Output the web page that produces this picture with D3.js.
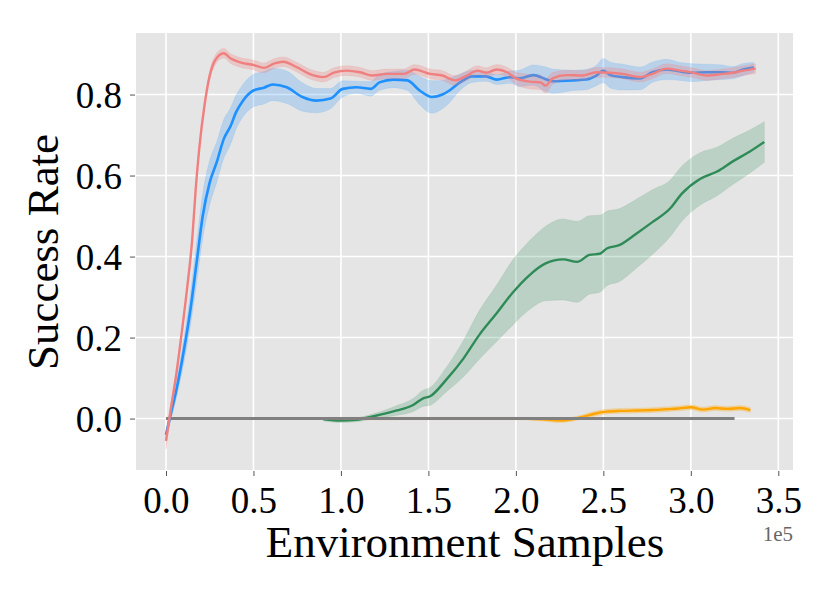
<!DOCTYPE html>
<html>
<head>
<meta charset="utf-8">
<script src="https://cdn.jsdelivr.net/npm/d3@7"></script>
<style>
  html, body { margin: 0; padding: 0; background: #fff; }
  svg { display: block; }
</style>
</head>
<body>
<svg id="chart" width="830" height="593"></svg>
<script>
// ---- data (x in units of 1e5 environment samples) ----
const xTicks = [0, 0.5, 1.0, 1.5, 2.0, 2.5, 3.0, 3.5];
const yTicks = [0.0, 0.2, 0.4, 0.6, 0.8];

const redX = [0,0.03,0.06,0.09,0.12,0.15,0.17,0.19,0.22,0.25,0.28,0.33,0.37,0.42,0.50,0.56,0.62,0.67,0.75,0.82,0.90,0.96,1.03,1.11,1.18,1.26,1.36,1.42,1.51,1.58,1.65,1.72,1.78,1.83,1.89,1.95,2.00,2.08,2.14,2.17,2.21,2.29,2.38,2.46,2.54,2.61,2.71,2.78,2.86,2.94,3.01,3.09,3.18,3.24,3.30,3.37];
const redY = [-0.055,0.03,0.113,0.212,0.319,0.443,0.567,0.666,0.773,0.847,0.884,0.902,0.889,0.880,0.873,0.866,0.877,0.881,0.867,0.851,0.843,0.854,0.859,0.855,0.847,0.851,0.851,0.862,0.851,0.847,0.835,0.847,0.859,0.854,0.862,0.855,0.840,0.832,0.830,0.822,0.840,0.848,0.847,0.855,0.854,0.851,0.843,0.851,0.864,0.859,0.854,0.847,0.851,0.854,0.859,0.864];
const redSpread = [0.02,0.015,0.012,0.01,0.01,0.01,0.01,0.01,0.01,0.012,0.012,0.012,0.012,0.012,0.012,0.012,0.012,0.012,0.012,0.012,0.012,0.012,0.012,0.012,0.012,0.012,0.012,0.012,0.012,0.012,0.012,0.012,0.012,0.012,0.012,0.012,0.015,0.018,0.018,0.018,0.015,0.012,0.012,0.012,0.012,0.012,0.012,0.012,0.012,0.012,0.012,0.012,0.012,0.012,0.012,0.012];

const blueX = [0,0.02,0.06,0.10,0.14,0.175,0.21,0.25,0.29,0.33,0.37,0.40,0.44,0.50,0.56,0.61,0.69,0.78,0.86,0.94,1.01,1.09,1.17,1.22,1.30,1.38,1.45,1.52,1.58,1.62,1.68,1.75,1.83,1.89,1.97,2.02,2.10,2.17,2.21,2.33,2.40,2.46,2.50,2.54,2.61,2.71,2.78,2.86,2.94,3.01,3.09,3.18,3.24,3.30,3.36];
const blueY = [-0.04,-0.002,0.072,0.163,0.27,0.385,0.50,0.583,0.633,0.69,0.723,0.756,0.785,0.810,0.817,0.825,0.818,0.794,0.785,0.79,0.814,0.818,0.814,0.83,0.837,0.835,0.81,0.794,0.80,0.81,0.83,0.845,0.845,0.837,0.843,0.840,0.848,0.838,0.833,0.835,0.837,0.847,0.859,0.848,0.843,0.840,0.855,0.862,0.857,0.854,0.855,0.855,0.854,0.862,0.867];
const blueSpread = [0.01,0.015,0.02,0.03,0.04,0.05,0.055,0.055,0.05,0.048,0.045,0.042,0.04,0.04,0.04,0.04,0.04,0.035,0.03,0.025,0.02,0.015,0.018,0.02,0.02,0.025,0.035,0.04,0.035,0.03,0.02,0.015,0.012,0.012,0.015,0.02,0.025,0.03,0.03,0.025,0.025,0.025,0.03,0.032,0.032,0.028,0.025,0.025,0.022,0.022,0.02,0.018,0.015,0.015,0.012];

const greenX = [0.90,1.0,1.09,1.18,1.32,1.41,1.47,1.51,1.60,1.70,1.79,1.89,1.98,2.08,2.17,2.27,2.35,2.42,2.48,2.52,2.59,2.69,2.78,2.88,2.95,3.05,3.15,3.24,3.34,3.42];
const greenY = [-0.002,-0.005,-0.003,0.005,0.02,0.033,0.05,0.055,0.095,0.148,0.206,0.26,0.31,0.355,0.383,0.393,0.387,0.404,0.407,0.42,0.428,0.457,0.485,0.518,0.556,0.591,0.61,0.635,0.66,0.683];
const greenSpread = [0.004,0.005,0.005,0.006,0.012,0.016,0.02,0.022,0.03,0.045,0.06,0.07,0.08,0.085,0.092,0.1,0.1,0.097,0.095,0.092,0.09,0.085,0.08,0.07,0.068,0.065,0.06,0.057,0.053,0.05];

const orangeX = [0.95,1.5,2.0,2.15,2.25,2.32,2.38,2.45,2.52,2.6,2.7,2.78,2.86,2.93,3.0,3.07,3.14,3.21,3.28,3.34];
const orangeY = [0.0,0.0,0.0,-0.002,-0.005,-0.002,0.004,0.012,0.017,0.019,0.02,0.021,0.023,0.025,0.028,0.022,0.026,0.024,0.026,0.021];
const orangeSpread = [0.003,0.003,0.003,0.004,0.005,0.005,0.005,0.006,0.006,0.006,0.006,0.006,0.006,0.006,0.006,0.006,0.006,0.006,0.006,0.006];

const grayX = [0, 3.25];
const grayY = [0, 0];

// ---- layout ----
const svg = d3.select("#chart");
const plot = {left: 136, right: 793, top: 33, bottom: 470};

const x = d3.scaleLinear().domain([-0.1714, 3.584]).range([plot.left, plot.right]);
const y = d3.scaleLinear().domain([-0.127, 0.952]).range([plot.bottom, plot.top]);

const serif = "'Liberation Serif', 'Times New Roman', serif";

svg.append("rect")
  .attr("x", plot.left).attr("y", plot.top)
  .attr("width", plot.right - plot.left).attr("height", plot.bottom - plot.top)
  .attr("fill", "#E5E5E5");

// grid
const grid = svg.append("g");
grid.selectAll("line.vx").data(xTicks).join("line")
  .attr("x1", d => x(d)).attr("x2", d => x(d))
  .attr("y1", plot.top).attr("y2", plot.bottom)
  .attr("stroke", "#fff").attr("stroke-width", 1.6);
grid.selectAll("line.hy").data(yTicks).join("line")
  .attr("y1", d => y(d)).attr("y2", d => y(d))
  .attr("x1", plot.left).attr("x2", plot.right)
  .attr("stroke", "#fff").attr("stroke-width", 1.6);

// axes
const xAxis = d3.axisBottom(x).tickValues(xTicks).tickFormat(d3.format(".1f")).tickSize(5).tickPadding(8);
const yAxis = d3.axisLeft(y).tickValues(yTicks).tickFormat(d3.format(".1f")).tickSize(5).tickPadding(8);

const gx = svg.append("g").attr("transform", `translate(0,${plot.bottom + 1})`).call(xAxis);
const gy = svg.append("g").attr("transform", `translate(${plot.left - 1},0)`).call(yAxis);
[gx, gy].forEach(g => {
  g.select(".domain").remove();
  g.selectAll(".tick line").attr("stroke", "#555").attr("stroke-width", 1);
  g.selectAll(".tick text").attr("font-family", serif).attr("font-size", 37).attr("fill", "#000");
});
gx.selectAll(".tick text").attr("dy", "0.78em");
gy.selectAll(".tick text").attr("dy", "0.34em");

// clip
svg.append("clipPath").attr("id", "clip").append("rect")
  .attr("x", plot.left).attr("y", plot.top)
  .attr("width", plot.right - plot.left).attr("height", plot.bottom - plot.top);
const layer = svg.append("g").attr("clip-path", "url(#clip)");

function series(xs, ys, sp, color, bandOpacity, lw) {
  const pts = xs.map((v, i) => ({x: v, y: ys[i], s: sp ? sp[i] : 0}));
  if (sp) {
    const area = d3.area().curve(d3.curveMonotoneX)
      .x(d => x(d.x)).y0(d => y(d.y - d.s)).y1(d => y(d.y + d.s));
    layer.append("path").datum(pts).attr("d", area)
      .attr("fill", color).attr("fill-opacity", bandOpacity)
      .attr("stroke", color).attr("stroke-opacity", bandOpacity * 0.6).attr("stroke-width", 0.8);
  }
  const line = d3.line().curve(d3.curveMonotoneX).x(d => x(d.x)).y(d => y(d.y));
  layer.append("path").datum(pts).attr("d", line)
    .attr("fill", "none").attr("stroke", color).attr("stroke-width", lw)
    .attr("stroke-linejoin", "round").attr("stroke-linecap", "butt");
}

series(greenX, greenY, greenSpread, "#2E8B57", 0.22, 2.4);
series(orangeX, orangeY, orangeSpread, "#FFA500", 0.3, 2.4);
series(grayX, grayY, null, "#808080", 0, 3);
series(blueX, blueY, blueSpread, "#1E90FF", 0.22, 2.6);
series(redX, redY, redSpread, "#F08080", 0.3, 2.4);

// labels
svg.append("text").attr("x", 465).attr("y", 557)
  .attr("text-anchor", "middle").attr("font-family", serif).attr("font-size", 45)
  .attr("fill", "#000").text("Environment Samples");

svg.append("text").attr("transform", "translate(58,252) rotate(-90)")
  .attr("text-anchor", "middle").attr("font-family", serif).attr("font-size", 45)
  .attr("fill", "#000").text("Success Rate");

svg.append("text").attr("x", 793).attr("y", 541)
  .attr("text-anchor", "end").attr("font-family", serif).attr("font-size", 21)
  .attr("fill", "#666").text("1e5");
</script>
</body>
</html>
